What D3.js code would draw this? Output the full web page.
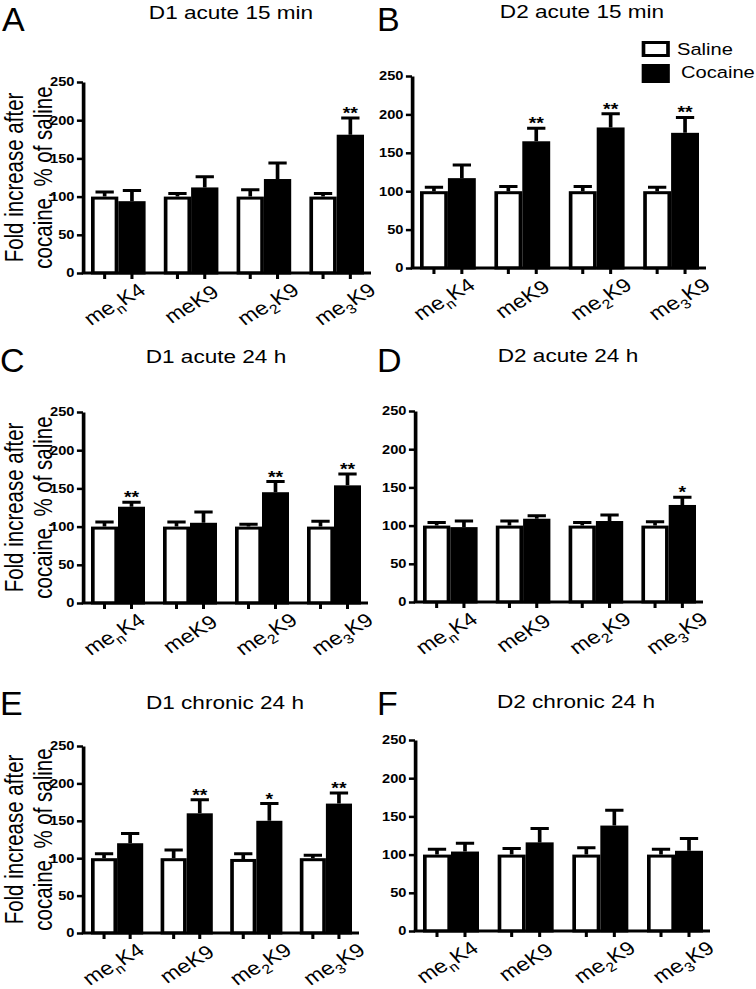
<!DOCTYPE html>
<html>
<head>
<meta charset="utf-8">
<script src="https://cdn.jsdelivr.net/npm/d3@7"></script>
<style>
  html, body { margin: 0; padding: 0; background: #fff; }
  svg { display: block; }
  text { font-family: "Liberation Sans", Arial, Helvetica, sans-serif; fill: #000; }
</style>
</head>
<body>
<div id="chart"></div>
<script>
// ---------------- DATA ----------------
const panelLetters = ["A", "B", "C", "D", "E", "F"];
const panelTitles = ["D1 acute 15 min", "D2 acute 15 min", "D1 acute 24 h",
                     "D2 acute 24 h", "D1 chronic 24 h", "D2 chronic 24 h"];
const categories = ["menK4", "meK9", "me2K9", "me3K9"];
const labelSubscripts = ["n", "", "2", "3"];
const labelSuffixes = ["K4", "K9", "K9", "K9"];
const seriesNames = ["Saline", "Cocaine"];
const yTicks = [0, 50, 100, 150, 200, 250];
const yAxisTitle = ["Fold increase after", "cocaine, % of saline"];

const salineMean = [
  [100, 100, 100, 100],
  [100, 100, 100, 100],
  [100, 100, 100, 100],
  [100, 100, 100, 100],
  [100, 100, 99, 100],
  [100, 100, 100, 100]
];
const salineSEM = [
  [6, 4, 9, 4],
  [5, 6, 6, 5],
  [6, 6, 3, 7],
  [4, 6, 4, 5],
  [6, 11, 7, 4],
  [7, 8, 9, 7]
];
const cocaineMean = [
  [94, 112, 123, 181],
  [117, 165, 183, 176],
  [126, 105, 145, 154],
  [98, 109, 106, 127],
  [120, 160, 150, 173],
  [104, 116, 138, 105]
];
const cocaineSEM = [
  [14, 14, 21, 22],
  [17, 17, 18, 20],
  [6, 14, 14, 15],
  [8, 4, 8, 10],
  [13, 18, 23, 14],
  [11, 18, 20, 16]
];
const significance = [
  ["", "", "", "**"],
  ["", "**", "**", "**"],
  ["**", "", "**", "**"],
  ["", "", "", "*"],
  ["", "**", "*", "**"],
  ["", "", "", ""]
];

// ---------------- LAYOUT (pixels) ----------------
const W = 756, H = 989;
const SX = 1.22; // horizontal stretch of the plot artwork
const layout = [
  {left: 83,  right: 371, y0: 273, yTop: 82,  titleX: 231, titleY: 19,  letterX: 2,   letterY: 31},
  {left: 412, right: 706, y0: 268, yTop: 76,  titleX: 582, titleY: 18,  letterX: 377, letterY: 31},
  {left: 83,  right: 368, y0: 603, yTop: 412, titleX: 216, titleY: 363, letterX: 0,   letterY: 372},
  {left: 415, right: 703, y0: 602, yTop: 411, titleX: 568, titleY: 362, letterX: 377, letterY: 372},
  {left: 83,  right: 359, y0: 933, yTop: 746, titleX: 225, titleY: 709, letterX: 0,   letterY: 715},
  {left: 415, right: 710, y0: 931, yTop: 740, titleX: 576, titleY: 708, letterX: 377, letterY: 715}
];
const SW = 3; // stroke width

const svg = d3.select("#chart").append("svg")
  .attr("width", W).attr("height", H)
  .attr("viewBox", `0 0 ${W} ${H}`);
svg.append("rect").attr("width", W).attr("height", H).attr("fill", "#fff");

const art = svg.append("g").attr("transform", `scale(${SX},1)`);

layout.forEach((L, p) => {
  // panel letter (not stretched)
  svg.append("text")
    .attr("x", L.letterX).attr("y", L.letterY)
    .attr("font-size", 34)
    .text(panelLetters[p]);

  const g = art.append("g");
  const gx = v => v / SX;

  // title
  g.append("text")
    .attr("x", gx(L.titleX)).attr("y", L.titleY)
    .attr("text-anchor", "middle")
    .attr("font-size", 18.5)
    .text(panelTitles[p]);

  const y = d3.scaleLinear().domain([0, 250]).range([L.y0, L.yTop]);
  const x = d3.scaleBand().domain(categories)
    .range([gx(L.left + 8), gx(L.right - 7)])
    .paddingInner(0.25).paddingOuter(0);
  const half = x.bandwidth() / 2;

  // bars
  const series = [
    {name: seriesNames[0], mean: salineMean[p], sem: salineSEM[p], off: 0, fill: "#fff"},
    {name: seriesNames[1], mean: cocaineMean[p], sem: cocaineSEM[p], off: half, fill: "#000"}
  ];
  series.forEach(s => {
    const bg = g.append("g");
    bg.selectAll("rect").data(categories).join("rect")
      .attr("x", c => x(c) + s.off + SW / 2)
      .attr("width", half - SW)
      .attr("y", (c, i) => y(s.mean[i]) + SW / 2)
      .attr("height", (c, i) => L.y0 - y(s.mean[i]) - SW / 2)
      .attr("fill", s.fill)
      .attr("stroke", "#000")
      .attr("stroke-width", SW);
    // error bars (upper only)
    const capW = 15;
    bg.selectAll("path.err").data(categories).join("path")
      .attr("class", "err")
      .attr("d", (c, i) => {
        const cx = x(c) + s.off + half / 2;
        const top = y(s.mean[i] + s.sem[i]);
        const base = y(s.mean[i]);
        return `M${cx},${base}V${top}M${cx - capW / 2},${top}H${cx + capW / 2}`;
      })
      .attr("fill", "none")
      .attr("stroke", "#000")
      .attr("stroke-width", SW);
  });

  // significance stars
  g.selectAll("text.sig").data(categories).join("text")
    .attr("class", "sig")
    .attr("x", c => x(c) + half * 1.5)
    .attr("y", (c, i) => y(cocaineMean[p][i] + cocaineSEM[p][i]) + 1)
    .attr("text-anchor", "middle")
    .attr("font-size", 16)
    .attr("font-weight", "bold")
    .text((c, i) => significance[p][i]);

  // y axis
  const yAxis = d3.axisLeft(y).tickValues(yTicks).tickSize(5).tickSizeOuter(0).tickPadding(2);
  const ya = g.append("g").attr("transform", `translate(${gx(L.left)},0)`).call(yAxis);
  ya.select(".domain").attr("stroke-width", SW).attr("stroke", "#000");
  ya.selectAll(".tick line").attr("stroke-width", SW - 0.5).attr("stroke", "#000");
  ya.selectAll(".tick text")
    .attr("font-family", "'Liberation Sans', Arial, sans-serif")
    .attr("font-size", 12).attr("font-weight", "bold").attr("fill", "#000");

  // x axis line + ticks under bar centres
  g.append("line")
    .attr("x1", gx(L.left) - 1).attr("x2", gx(L.right))
    .attr("y1", L.y0).attr("y2", L.y0)
    .attr("stroke", "#000").attr("stroke-width", SW);
  const tickXs = [];
  categories.forEach(c => { tickXs.push(x(c) + half / 2, x(c) + half * 1.5); });
  g.selectAll("line.xt").data(tickXs).join("line")
    .attr("class", "xt")
    .attr("x1", d => d).attr("x2", d => d)
    .attr("y1", L.y0).attr("y2", L.y0 + 6)
    .attr("stroke", "#000").attr("stroke-width", SW - 0.5);

  // x category labels (rotated)
  categories.forEach((c, i) => {
    const cx = x(c) + half + gx(4 * (i - 1.5) + 2);
    const t = g.append("text")
      .attr("transform", `translate(${cx},${L.y0 + 31}) rotate(-36)`)
      .attr("text-anchor", "middle")
      .attr("dy", "0.35em")
      .attr("font-size", 19);
    t.append("tspan").text("me");
    if (labelSubscripts[i]) {
      t.append("tspan").attr("dy", 5).attr("font-size", 13).text(labelSubscripts[i]);
      t.append("tspan").attr("dy", -5).text(labelSuffixes[i]);
    } else {
      t.append("tspan").text(labelSuffixes[i]);
    }
  });

  // y axis title on left-column panels
  if (p % 2 === 0) {
    const cy = (L.y0 + L.yTop) / 2;
    yAxisTitle.forEach((line, k) => {
      g.append("text")
        .attr("transform", `translate(${gx(23 + k * 28.5)},${cy}) rotate(-90)`)
        .attr("text-anchor", "middle")
        .attr("font-size", 20.5)
        .text(line);
    });
  }
});

// legend (panel B)
const legend = art.append("g");
const legendRows = [
  {name: seriesNames[0], fill: "#fff", boxY: 42, boxH: 13, textX: 677, textY: 55},
  {name: seriesNames[1], fill: "#000", boxY: 65, boxH: 16, textX: 681, textY: 78}
];
legendRows.forEach(r => {
  legend.append("rect")
    .attr("x", 643.5 / SX).attr("y", r.boxY + 0.5)
    .attr("width", 24.5 / SX).attr("height", r.boxH)
    .attr("fill", r.fill).attr("stroke", "#000").attr("stroke-width", SW);
  legend.append("text")
    .attr("x", r.textX / SX).attr("y", r.textY)
    .attr("font-size", 16.5)
    .text(r.name);
});
</script>
</body>
</html>
